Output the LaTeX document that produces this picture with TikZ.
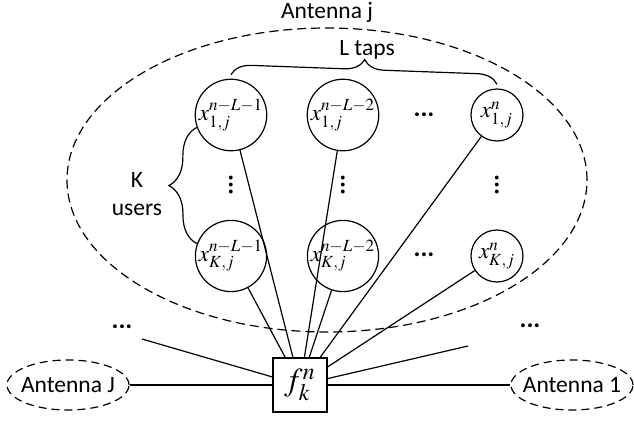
\documentclass[tikz,border=0pt]{standalone}
\usepackage{mathptmx}
\usepackage[no-math]{fontspec}
\setmainfont{Carlito}
\usetikzlibrary{shapes.geometric, decorations.pathreplacing}

\begin{document}
\begin{tikzpicture}[x=0.5pt, y=0.5pt, line width=0.6pt,
		font=\fontsize{11.75}{14}\selectfont,
		tap/.style={draw, circle, minimum size=26pt, inner sep=0pt, font=\fontsize{11.5}{13}\selectfont},
		antenna/.style={draw, ellipse, dash pattern=on 4pt off 2.5pt, minimum width=61pt, minimum height=25pt, inner xsep=-4pt, inner ysep=0pt},
		dotsnode/.style={font=\fontsize{13}{13}\bfseries, inner sep=0pt},
		tapbrace/.style={decorate, decoration={brace, amplitude=#1}}]
		\useasboundingbox (0,0) rectangle (634,420);

		\node (1)[tap] at (231,305) {$x_{1,j}^{n-L-1}$};
		\node (2)[tap, node distance=56pt, right of = 1] {$x_{1,j}^{n-L-2}$};
		\node (3)[tap, node distance=77pt, right of = 2] {$x_{1,j}^{n}$};

		\node (4)[tap, node distance=70.5pt, below of = 1] {$x_{K,j}^{n-L-1}$};
		\node (5)[tap, node distance=56pt, right of = 4] {$x_{K,j}^{n-L-2}$};
		\node (6)[tap, node distance=77pt, right of = 5] {$x_{K,j}^{n}$};

		\node (7)[draw, minimum size=27pt, inner sep=0pt, font=\fontsize{16}{18}\selectfont] at (300,35) {$f_k^n$};
		\node (8)[antenna] at (68,35) {Antenna J};
		\node (9)[antenna] at (572,35) {Antenna 1};

		\node (d1)[dotsnode] at (424,305) {...};
		\node (d2)[dotsnode] at (424,165) {...};
		\node (d3)[dotsnode, rotate=90] at (231,235) {...};
		\node (d4)[dotsnode, rotate=90] at (343,235) {...};
		\node (d5)[dotsnode, rotate=90] at (497,235) {...};
		\node (d6)[dotsnode] at (122,93) {...};
		\node (d7)[dotsnode] at (530,94) {...};

		% antenna j group
		\draw [dash pattern=on 4.5pt off 2.5pt](327,240) ellipse [x radius=260, y radius=152];
		\node (l0) at (327,408) {Antenna j};

		\draw [tapbrace=10pt]([yshift=2pt]1.north) -- ([yshift=2pt]3.north);
		\node (l1) at (367,370) {L taps};
		\draw [tapbrace=14pt](4.160) -- (1.200);
		\node (l2)[align=center] at (137,226) {K\\users};

		\draw (1) to (7);
		\draw (2) to (7);
		\draw (3) to (7);
		\draw (4) to (7);
		\draw (5) to (7);
		\draw (6) to (7);

		\coordinate (c1) at (142,81);
		\coordinate (c2) at (468,74);
		\draw (c1) to (7);
		\draw (c2) to (7);

		\draw (8) to (7);
		\draw (7) to (9);
	\end{tikzpicture}
\end{document}
